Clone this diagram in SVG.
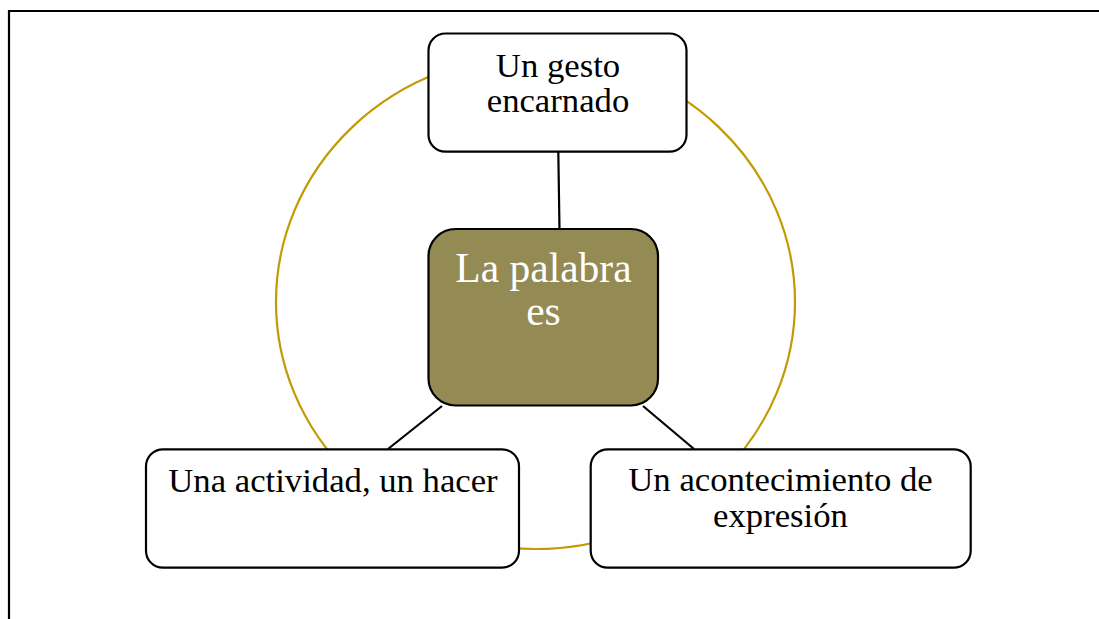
<svg xmlns="http://www.w3.org/2000/svg" width="1099" height="619" viewBox="0 0 1099 619">
  <style>
    .box { fill: #ffffff; stroke: #000000; stroke-width: 2.2; }
    .center { fill: #948A54; stroke: #000000; stroke-width: 2.2; }
    .conn { stroke: #000000; stroke-width: 2.2; fill: none; }
    .ring { fill: none; stroke: #C39A00; stroke-width: 2.2; }
    .t { font-family: "Liberation Serif", "Times New Roman", serif; font-size: 34.7px; fill: #000000; text-anchor: middle; }
    .tc { font-family: "Liberation Serif", "Times New Roman", serif; font-size: 41.5px; fill: #ffffff; text-anchor: middle; }
  </style>
  <rect x="0" y="0" width="1099" height="619" fill="#ffffff"/>
  <g id="frame">
    <line x1="8" y1="11" x2="1099" y2="11" stroke="#000" stroke-width="2.2"/>
    <line x1="9" y1="10" x2="9" y2="619" stroke="#000" stroke-width="2.2"/>
  </g>
  <g id="ring">
    <ellipse class="ring" cx="535.5" cy="302" rx="259.5" ry="247"/>
  </g>
  <g id="connectors">
    <line class="conn" x1="558.3" y1="152" x2="559.5" y2="229"/>
    <line class="conn" x1="442" y1="406" x2="388" y2="449"/>
    <line class="conn" x1="643" y1="406" x2="694" y2="449"/>
  </g>
  <g id="node-center">
    <rect class="center" x="428.5" y="229" width="229.5" height="176.5" rx="27" ry="27"/>
    <text class="tc" x="543.5" y="282">La palabra</text>
    <text class="tc" x="543.5" y="325">es</text>
  </g>
  <g id="node-top">
    <rect class="box" x="428.5" y="33.5" width="258" height="118.2" rx="17" ry="17"/>
    <text class="t" x="558" y="77">Un gesto</text>
    <text class="t" x="558" y="112">encarnado</text>
  </g>
  <g id="node-left">
    <rect class="box" x="146" y="449.3" width="373" height="118.4" rx="17" ry="17"/>
    <text class="t" x="333" y="491.5">Una actividad, un hacer</text>
  </g>
  <g id="node-right">
    <rect class="box" x="590.7" y="449.3" width="380" height="118.4" rx="17" ry="17"/>
    <text class="t" x="780.5" y="491">Un acontecimiento de</text>
    <text class="t" x="780.5" y="527">expresión</text>
  </g>
</svg>
